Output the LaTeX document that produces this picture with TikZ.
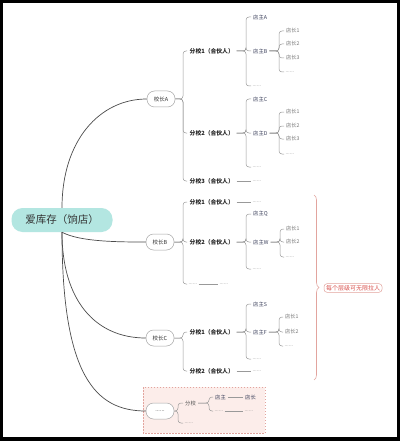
\documentclass[tikz,border=0pt]{standalone}
\usepackage{fontspec}
\setmainfont{Noto Sans CJK SC}
\usetikzlibrary{calc,decorations.pathreplacing}
\definecolor{rootfill}{HTML}{B3E6E1}
\definecolor{boxfill}{HTML}{FCEDEA}
\definecolor{boxline}{HTML}{E2A49E}
\definecolor{notered}{HTML}{D9534F}
\definecolor{ownertxt}{HTML}{3A3F5A}
\newcommand\fork[3]{\draw[br] let \p1=(#1.east) in (\p1) -- (#3pt,\y1) |- (#2.west);}
\begin{document}
\begin{tikzpicture}[x=1pt,y=-1pt,
  rootbox/.style={fill=rootfill, rounded corners=11pt, minimum width=101pt, minimum height=24pt, inner sep=0pt, font=\fontsize{10.5}{12}\selectfont, text=black!80},
  boss/.style={draw=black!35, fill=white, rounded corners=7.5pt, minimum width=28pt, minimum height=16pt, inner sep=0pt, line width=0.5pt, font=\fontsize{5.5}{6}\selectfont, text=black!80},
  branch/.style={anchor=west, inner xsep=2.5pt, inner ysep=1pt, font=\fontsize{5.8}{6}\selectfont\bfseries, text=black!85},
  owner/.style={anchor=west, inner xsep=2pt, inner ysep=1pt, font=\fontsize{5.3}{6}\selectfont, text=ownertxt},
  mgr/.style={anchor=west, inner xsep=2pt, inner ysep=1pt, font=\fontsize{5.2}{6}\selectfont, text=black!55},
  dots/.style={anchor=west, inner xsep=1.5pt, inner ysep=1pt, font=\fontsize{5}{6}\selectfont, text=black!50},
  plain/.style={anchor=west, inner xsep=2pt, inner ysep=1pt, font=\fontsize{5.3}{6}\selectfont, text=black!70},
  mainline/.style={draw=black!70, line width=0.7pt},
  br/.style={draw=black!40, line width=0.5pt, rounded corners=3pt},
  note/.style={draw=boxline, fill=white, rounded corners=3pt, inner xsep=2pt, inner ysep=1.5pt, line width=0.5pt, font=\fontsize{6}{7}\selectfont, text=notered}
]
% frame
\fill[black] (0,0) rectangle (400,441);
\fill[white] (3,3) rectangle (397,437);
\useasboundingbox (0,0) rectangle (400,441);

% dashed box
\draw[draw=boxline, fill=boxfill, line width=0.6pt, dash pattern=on 1.5pt off 1.5pt] (143,387) rectangle (265,433);

% root and heads
\node[rootbox] (root) at (62,220) {爱库存（饷店）};
\node[boss] (bA) at (161,99) {校长A};
\node[boss] (bB) at (160,242) {校长B};
\node[boss] (bC) at (160,338) {校长C};
\node[boss] (bD) at (160,411) {......};

\draw[mainline] (root.north) .. controls (62,140) and (100,99) .. (bA.west);
\draw[mainline] (root.south) .. controls (80,242) and (120,242) .. (bB.west);
\draw[mainline] (root.south) .. controls (62,300) and (95,338) .. (bC.west);
\draw[mainline] (root.south) .. controls (62,375) and (95,411) .. (bD.west);

% ---------- A ----------
\node[branch] (a1) at (187,51) {分校1（合伙人）};
\node[branch] (a2) at (187,133) {分校2（合伙人）};
\node[branch] (a3) at (187,181) {分校3（合伙人）};
\node[dots] (a3d) at (251,181) {......};
\fork{bA}{a1}{183}
\fork{bA}{a2}{183}
\fork{bA}{a3}{183}
\draw[br] (a3.east) -- (a3d.west);

\node[owner] (a1s1) at (251,17) {店主A};
\node[owner] (a1s2) at (251,51) {店主B};
\node[dots] (a1s3) at (251,86) {......};
\fork{a1}{a1s1}{246}
\fork{a1}{a1s2}{246}
\fork{a1}{a1s3}{246}

\node[mgr] (a1m1) at (284,31) {店长1};
\node[mgr] (a1m2) at (284,44) {店长2};
\node[mgr] (a1m3) at (284,58) {店长3};
\node[dots] (a1m4) at (284,72) {......};
\fork{a1s2}{a1m1}{279}
\fork{a1s2}{a1m2}{279}
\fork{a1s2}{a1m3}{279}
\fork{a1s2}{a1m4}{279}

\node[owner] (a2s1) at (251,99) {店主C};
\node[owner] (a2s2) at (251,133) {店主D};
\node[dots] (a2s3) at (251,167) {......};
\fork{a2}{a2s1}{246}
\fork{a2}{a2s2}{246}
\fork{a2}{a2s3}{246}

\node[mgr] (a2m1) at (284,112) {店长1};
\node[mgr] (a2m2) at (284,126) {店长2};
\node[mgr] (a2m3) at (284,139) {店长3};
\node[dots] (a2m4) at (284,154) {......};
\fork{a2s2}{a2m1}{279}
\fork{a2s2}{a2m2}{279}
\fork{a2s2}{a2m3}{279}
\fork{a2s2}{a2m4}{279}

% ---------- B ----------
\node[branch] (b1) at (187,202) {分校1（合伙人）};
\node[branch] (b2) at (187,242) {分校2（合伙人）};
\node[dots] (b3) at (187,284) {......};
\node[dots] (b1d) at (251,202) {......};
\node[dots] (b3d) at (218,284) {......};
\fork{bB}{b1}{183}
\fork{bB}{b2}{183}
\fork{bB}{b3}{183}
\draw[br] (b1.east) -- (b1d.west);
\draw[br] (b3.east) -- (b3d.west);

\node[owner] (b2s1) at (251,214) {店主Q};
\node[owner] (b2s2) at (251,242) {店主W};
\node[dots] (b2s3) at (251,269) {......};
\fork{b2}{b2s1}{246}
\fork{b2}{b2s2}{246}
\fork{b2}{b2s3}{246}

\node[mgr] (b2m1) at (284,229) {店长1};
\node[mgr] (b2m2) at (284,242) {店长2};
\node[dots] (b2m3) at (284,257) {......};
\fork{b2s2}{b2m1}{280}
\fork{b2s2}{b2m2}{280}
\fork{b2s2}{b2m3}{280}

% ---------- C ----------
\node[branch] (c1) at (187,332) {分校1（合伙人）};
\node[branch] (c2) at (187,371) {分校2（合伙人）};
\node[dots] (c2d) at (251,371) {......};
\fork{bC}{c1}{183}
\fork{bC}{c2}{183}
\draw[br] (c2.east) -- (c2d.west);

\node[owner] (c1s1) at (251,304) {店主S};
\node[owner] (c1s2) at (251,332) {店主F};
\node[dots] (c1s3) at (251,359) {......};
\fork{c1}{c1s1}{246}
\fork{c1}{c1s2}{246}
\fork{c1}{c1s3}{246}

\node[mgr] (c1m1) at (283,317) {店长1};
\node[mgr] (c1m2) at (283,332) {店长2};
\node[dots] (c1m3) at (283,346) {......};
\fork{c1s2}{c1m1}{279}
\fork{c1s2}{c1m2}{279}
\fork{c1s2}{c1m3}{279}

% ---------- dots group ----------
\node[plain] (d1) at (183,403) {分校};
\node[dots] (d2) at (183,423) {......};
\fork{bD}{d1}{178}
\fork{bD}{d2}{178}

\node[owner] (d1s1) at (213,397) {店主};
\node[dots] (d1s2) at (213,411) {......};
\fork{d1}{d1s1}{209}
\fork{d1}{d1s2}{209}
\node[owner] (d1m1) at (243,397) {店长};
\node[dots] (d1m2) at (243,411) {......};
\draw[br] (d1s1.east) -- (d1m1.west);
\draw[br] (d1s2.east) -- (d1m2.west);

% ---------- red brace and note ----------
\draw[draw=boxline, line width=0.6pt, decorate, decoration={brace, amplitude=5pt}] (314,195) -- (314,380);
\node[note] (nt) at (353,288) {每个层级可无限拉人};
\end{tikzpicture}
\end{document}
